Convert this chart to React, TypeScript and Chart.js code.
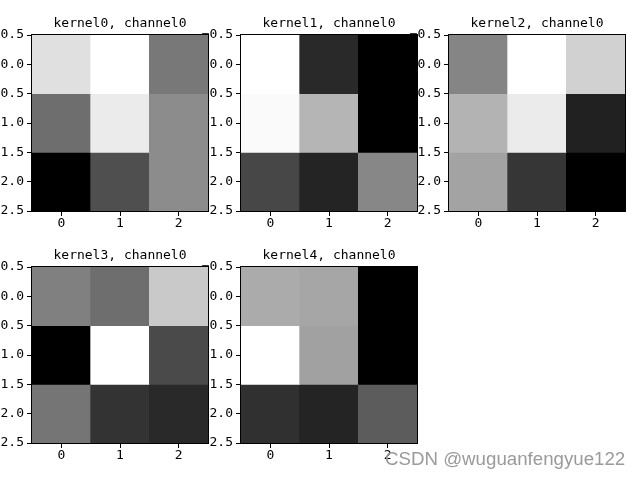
import React, { useEffect, useRef } from "react";
import { Chart, registerables } from "chart.js";
Chart.register(...registerables);

// ---- data ----
const colLabels = ["0", "1", "2"];
const yTickValues = [-0.5, 0, 0.5, 1, 1.5, 2, 2.5];
const titles = [
  "kernel0, channel0",
  "kernel1, channel0",
  "kernel2, channel0",
  "kernel3, channel0",
  "kernel4, channel0",
];
// estimated (normalized) kernel weights, row by row
const kernel0 = [
  [0.88, 1.0, 0.47],
  [0.43, 0.92, 0.55],
  [0.0, 0.31, 0.55],
];
const kernel1 = [
  [1.0, 0.16, 0.0],
  [0.98, 0.71, 0.0],
  [0.28, 0.14, 0.53],
];
const kernel2 = [
  [0.52, 1.0, 0.82],
  [0.7, 0.92, 0.13],
  [0.64, 0.21, 0.0],
];
const kernel3 = [
  [0.5, 0.43, 0.79],
  [0.0, 1.0, 0.29],
  [0.46, 0.2, 0.16],
];
const kernel4 = [
  [0.67, 0.65, 0.0],
  [1.0, 0.63, 0.0],
  [0.19, 0.14, 0.36],
];
const kernels = [kernel0, kernel1, kernel2, kernel3, kernel4];

// ---- layout (axes boxes) ----
const AX = 176;
const Y_W = 40;
const TITLE_H = 24;
const X_H = 30;
const PAD_R = 2;
const panelPos = [
  { left: 32, top: 35 },
  { left: 241, top: 35 },
  { left: 449, top: 35 },
  { left: 32, top: 267 },
  { left: 241, top: 267 },
];

const FONT = '"DejaVu Sans Mono", monospace';

function gray(v: number, min: number, max: number) {
  const n = max > min ? (v - min) / (max - min) : 0;
  const g = Math.round(n * 255);
  return `rgb(${g},${g},${g})`;
}

function fmtTick(v: number) {
  const s = Math.abs(v).toFixed(1);
  return v < 0 ? "\u2212" + s : s;
}

const framePlugin = {
  id: "frame",
  afterDatasetsDraw(chart: any) {
    const { ctx, chartArea } = chart;
    const l = Math.round(chartArea.left);
    const t = Math.round(chartArea.top);
    const r = Math.round(chartArea.right);
    const b = Math.round(chartArea.bottom);
    ctx.save();
    ctx.strokeStyle = "#000";
    ctx.lineWidth = 1;
    ctx.strokeRect(l - 0.5, t - 0.5, r - l + 1, b - t + 1);
    ctx.restore();
  },
};

function Panel({ title, values, left, top }: { title: string; values: number[][]; left: number; top: number }) {
  const ref = useRef<HTMLCanvasElement | null>(null);
  useEffect(() => {
    if (!ref.current) return;
    const flat = values.flat();
    const min = Math.min(...flat);
    const max = Math.max(...flat);
    const tickFont = { family: FONT, size: 13 };
    const chart = new Chart(ref.current, {
      type: "bar",
      data: {
        labels: colLabels,
        datasets: values.map((row, r) => ({
          data: row.map(() => [r - 0.5, r + 0.5]),
          backgroundColor: row.map((v) => gray(v, min, max)),
          borderWidth: 0,
          grouped: false,
          barPercentage: 1,
          categoryPercentage: 1,
        })) as any,
      },
      options: {
        responsive: false,
        animation: false,
        devicePixelRatio: 1,
        layout: { padding: { left: 0, right: PAD_R, top: 0, bottom: 0 } },
        plugins: {
          legend: { display: false },
          tooltip: { enabled: false },
          title: {
            display: true,
            text: title,
            fullSize: false,
            color: "#000",
            font: { family: FONT, size: 13, weight: "normal", lineHeight: "16px" } as any,
            padding: { top: 5, bottom: 3 },
          },
        },
        scales: {
          x: {
            type: "category",
            offset: true,
            grid: { display: true, drawOnChartArea: false, drawTicks: true, tickLength: 5, tickColor: "#000", offset: false },
            border: { display: false },
            ticks: { color: "#000", font: tickFont, padding: 0, maxRotation: 0 },
            afterFit: (s: any) => {
              s.height = X_H;
            },
          },
          y: {
            type: "linear",
            reverse: true,
            min: -0.5,
            max: 2.5,
            afterBuildTicks: (s: any) => {
              s.ticks = yTickValues.map((v) => ({ value: v }));
            },
            grid: { display: true, drawOnChartArea: false, drawTicks: true, tickLength: 5, tickColor: "#000" },
            border: { display: false },
            ticks: { color: "#000", font: tickFont, padding: 3, callback: (v: any) => fmtTick(Number(v)) },
            afterFit: (s: any) => {
              s.width = Y_W;
            },
          },
        },
      } as any,
      plugins: [framePlugin],
    });
    return () => chart.destroy();
  }, [title, values]);
  return (
    <canvas
      ref={ref}
      width={Y_W + AX + PAD_R}
      height={TITLE_H + AX + X_H}
      style={{
        position: "absolute",
        left: left - Y_W,
        top: top - TITLE_H,
        width: Y_W + AX + PAD_R,
        height: TITLE_H + AX + X_H,
      }}
    />
  );
}

export default function App() {
  return (
    <div
      style={{
        position: "fixed",
        left: 0,
        top: 0,
        width: 640,
        height: 480,
        background: "#fff",
        overflow: "hidden",
      }}
    >
      {kernels.map((k, i) => (
        <Panel key={i} title={titles[i]} values={k} left={panelPos[i].left} top={panelPos[i].top} />
      ))}
      <div
        style={{
          position: "absolute",
          left: 385,
          top: 449,
          font: '18.7px "Liberation Sans", Arial, sans-serif',
          lineHeight: "20px",
          color: "#9a9a9a",
          whiteSpace: "nowrap",
        }}
      >
        CSDN @wuguanfengyue122
      </div>
    </div>
  );
}
